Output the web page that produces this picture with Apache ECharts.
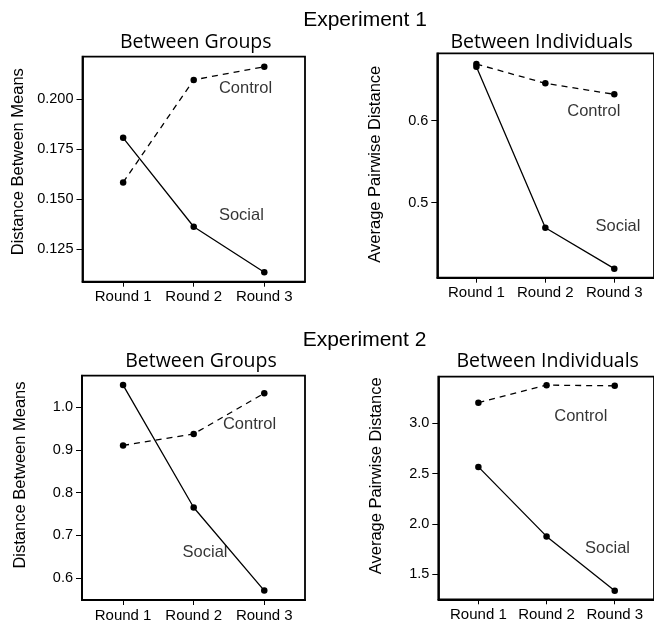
<!DOCTYPE html>
<html>
<head>
<meta charset="utf-8">
<script src="https://cdn.jsdelivr.net/npm/echarts@6/dist/echarts.min.js"></script>
<style>
html,body{margin:0;padding:0;background:#fff;}
#chart{width:654px;height:625px;}
</style>
</head>
<body>
<div id="chart"></div>
<script>
// ---- data ----
const rounds = ['Round 1', 'Round 2', 'Round 3'];
const roundPos = [1, 2, 3];

const exp1GroupsControl = [0.1584, 0.2097, 0.2163];
const exp1GroupsSocial  = [0.1807, 0.1362, 0.1134];
const exp1IndivControl  = [0.6691, 0.6456, 0.6322];
const exp1IndivSocial   = [0.6659, 0.4695, 0.4195];
const exp2GroupsControl = [0.910, 0.937, 1.032];
const exp2GroupsSocial  = [1.051, 0.765, 0.571];
const exp2IndivControl  = [3.205, 3.380, 3.373];
const exp2IndivSocial   = [2.566, 1.874, 1.334];

const ticks1G = [0.125, 0.150, 0.175, 0.200];
const ticks1I = [0.5, 0.6];
const ticks2G = [0.6, 0.7, 0.8, 0.9, 1.0];
const ticks2I = [1.5, 2.0, 2.5, 3.0];

// label anchors [x (round units), y (value)]
const lbl1G = {Control: [2.357, 0.2052], Social: [2.357, 0.1417]};
const lbl1I = {Control: [2.318, 0.6118], Social: [2.727, 0.4707]};
const lbl2G = {Control: [2.414, 0.958], Social: [1.843, 0.660]};
const lbl2I = {Control: [2.113, 3.073], Social: [2.565, 1.756]};

// ---- layout ----
const panels = [
  {grid:{left:82.5, top:56.7, width:222.5, height:225}, x:[0.424,3.577], y:[0.1087,0.2213], ticks:ticks1G, dec:3,
   c:exp1GroupsControl, s:exp1GroupsSocial, lbl:lbl1G},
  {grid:{left:437.3, top:53.3, width:219, height:224.4}, x:[0.433,3.576], y:[0.4085,0.6822], ticks:ticks1I, dec:1,
   c:exp1IndivControl, s:exp1IndivSocial, lbl:lbl1I},
  {grid:{left:82, top:375.7, width:223, height:224.3}, x:[0.418,3.577], y:[0.549,1.073], ticks:ticks2G, dec:1,
   c:exp2GroupsControl, s:exp2GroupsSocial, lbl:lbl2G},
  {grid:{left:438.3, top:376.7, width:219, height:222.6}, x:[0.412,3.576], y:[1.248,3.464], ticks:ticks2I, dec:1,
   c:exp2IndivControl, s:exp2IndivSocial, lbl:lbl2I}
];

const tickFont = 'Liberation Sans, Arial, sans-serif';
const grids = [], xAxes = [], yAxes = [], series = [];
panels.forEach((p, i) => {
  grids.push(Object.assign({show:true, borderColor:'#000', borderWidth:1.8, containLabel:false}, p.grid));
  xAxes.push({
    type:'value', gridIndex:i, min:p.x[0], max:p.x[1],
    axisLine:{show:true, lineStyle:{color:'#000', width:1.8}},
    axisTick:{show:true, length:5, customValues:roundPos, lineStyle:{color:'#000', width:1}},
    axisLabel:{show:true, customValues:roundPos, margin:8, color:'#000', fontFamily:tickFont, fontSize:15,
      formatter:v => rounds[Math.round(v)-1]},
    splitLine:{show:false}
  });
  yAxes.push({
    type:'value', gridIndex:i, min:p.y[0], max:p.y[1],
    axisLine:{show:true, lineStyle:{color:'#000', width:1.8}},
    axisTick:{show:true, length:6, customValues:p.ticks, lineStyle:{color:'#000', width:1}},
    axisLabel:{show:true, customValues:p.ticks, margin:9, color:'#000', fontFamily:tickFont, fontSize:14.5,
      formatter:v => Number(v).toFixed(p.dec)},
    splitLine:{show:false}
  });
  const mk = (vals) => vals.map((v, k) => [roundPos[k], v]);
  series.push({
    type:'line', xAxisIndex:i, yAxisIndex:i, data:mk(p.c), symbol:'circle', symbolSize:6.5,
    itemStyle:{color:'#000'}, lineStyle:{color:'#000', width:1.3, type:[6,5]}, animation:false, z:3
  });
  series.push({
    type:'line', xAxisIndex:i, yAxisIndex:i, data:mk(p.s), symbol:'circle', symbolSize:6.5,
    itemStyle:{color:'#000'}, lineStyle:{color:'#000', width:1.3}, animation:false, z:3
  });
  series.push({
    type:'scatter', xAxisIndex:i, yAxisIndex:i, symbolSize:0, animation:false, silent:true,
    data:Object.keys(p.lbl).map(k => ({name:k, value:p.lbl[k]})),
    label:{show:true, position:'right', distance:0, formatter:'{b}', color:'#000',
      fontFamily:tickFont, fontSize:16.5}
  });
});

const subFont = 'Open Sans, sans-serif';
const titles = [
  {text:'Experiment 1', x:365, y:20.5, font:tickFont, size:21},
  {text:'Experiment 2', x:364.5, y:340.3, font:tickFont, size:21},
  {text:'Between Groups', x:195.8, y:42.7, font:subFont, size:19.5},
  {text:'Between Individuals', x:541.7, y:42.7, font:subFont, size:19.5},
  {text:'Between Groups', x:201, y:361.7, font:subFont, size:19.5},
  {text:'Between Individuals', x:547.7, y:361, font:subFont, size:19.5}
];
const yNames = [
  {text:'Distance Between Means', x:18.5, y:161.7},
  {text:'Average Pairwise Distance', x:375, y:164.2},
  {text:'Distance Between Means', x:20, y:475},
  {text:'Average Pairwise Distance', x:376.7, y:475.8}
];
const graphic = [];
titles.forEach(t => graphic.push({type:'text', x:t.x, y:t.y, silent:true,
  style:{text:t.text, fill:'#000', font:t.size + 'px ' + t.font, align:'center', verticalAlign:'middle'}}));
yNames.forEach(t => graphic.push({type:'text', x:t.x, y:t.y, rotation:Math.PI/2, silent:true,
  style:{text:t.text, fill:'#000', font:'16.5px ' + tickFont, align:'center', verticalAlign:'middle'}}));

const chart = echarts.init(document.getElementById('chart'), null, {renderer:'canvas'});
chart.setOption({
  backgroundColor:'#fff',
  animation:false,
  grid:grids, xAxis:xAxes, yAxis:yAxes, series:series, graphic:graphic
});
</script>
</body>
</html>
